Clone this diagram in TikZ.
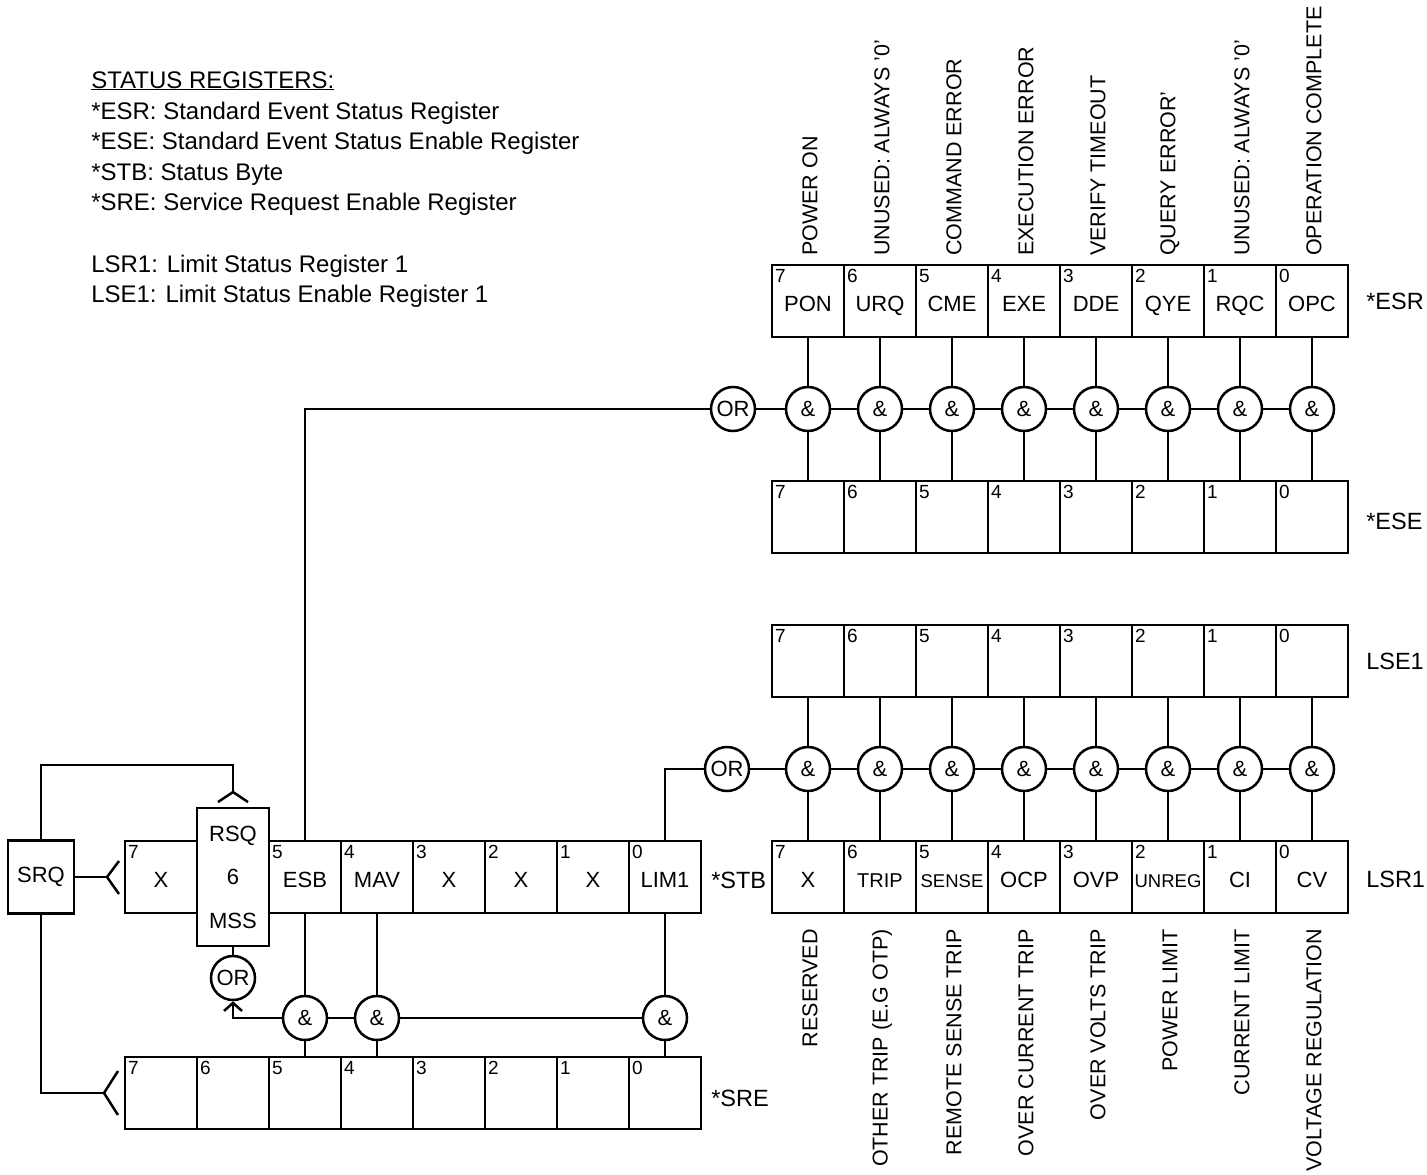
\documentclass[tikz,border=0pt]{standalone}
\usepackage{fontspec}
\setmainfont{Liberation Sans}
\usetikzlibrary{arrows.meta}
\newcommand\sq[1]{{\fontsize{18.5}{20}\selectfont #1}}
\newcommand\regrow[4]{%
  \foreach \lab [count=\i from 0] in {#4} {
    \pgfmathtruncatemacro\bit{7-\i}
    \node[cell] (#1\bit) at ({#2+36+72*\i}, {#3+36}) {};
    \node[celltext] at ([yshift=-10pt]#1\bit.center) {\lab};
    \node[bitnum] at ([xshift=3pt,yshift=-4pt]#1\bit.north west) {\bit};
  }}
\begin{document}
\begin{tikzpicture}[x=1pt,y=-1pt, line width=2.5pt,
 cell/.style={draw, minimum width=72pt, minimum height=72pt, inner sep=0pt},
 celltext/.style={anchor=base, inner sep=0pt, font=\fontsize{22}{24}\selectfont},
 gate/.style={draw, circle, minimum size=44pt, inner sep=0pt, font=\fontsize{22}{24}\selectfont},
 bitnum/.style={anchor=north west, inner sep=0pt, font=\fontsize{19}{20}\selectfont},
 reglabel/.style={anchor=west, inner sep=0pt, font=\fontsize{23.5}{24}\selectfont},
 toplabel/.style={rotate=90, anchor=west, inner sep=0pt, font=\fontsize{21.5}{22}\selectfont},
 botlabel/.style={rotate=90, anchor=east, inner sep=0pt, font=\fontsize{21.5}{22}\selectfont},
 hdr/.style={anchor=base west, inner sep=0pt, font=\fontsize{24}{26}\selectfont}]
\useasboundingbox[fill=white] (0,0) rectangle (1427,1175);

% header
\node[hdr] (h0) at (90,88) {\underline{STATUS REGISTERS:}};
\node[hdr] (h1) at (90,119) {*ESR: Standard Event Status Register};
\node[hdr] (h2) at (90,149) {*ESE: Standard Event Status Enable Register};
\node[hdr] (h3) at (90,180) {*STB: Status Byte};
\node[hdr] (h4) at (90,210) {*SRE: Service Request Enable Register};
\node[hdr] (h5) at (90,272) {LSR1: Limit Status Register 1};
\node[hdr] (h6) at (90,302) {LSE1: Limit Status Enable Register 1};

% registers on the right
\regrow{esr}{772}{265}{PON,URQ,CME,EXE,DDE,QYE,RQC,OPC}
\regrow{ese}{772}{481}{{},{},{},{},{},{},{},{}}
\regrow{lse}{772}{625}{{},{},{},{},{},{},{},{}}
\regrow{lsr}{772}{841}{X,{\fontsize{20}{22}\selectfont TRIP},\sq{SENSE},OCP,OVP,\sq{UNREG},CI,CV}
\node[reglabel] (lesr) at (1365,301) {*ESR};
\node[reglabel] (lese) at (1365,521) {*ESE};
\node[reglabel] (llse) at (1365,661) {LSE1};
\node[reglabel] (llsr) at (1365,879) {LSR1};

% top labels
\foreach \t [count=\i from 0] in {POWER ON,UNUSED: ALWAYS '0',COMMAND ERROR,EXECUTION ERROR,VERIFY TIMEOUT,QUERY ERROR',UNUSED: ALWAYS '0',OPERATION COMPLETE}
  \node[toplabel] (tl\i) at ({810+72*\i},257) {\t};
% bottom labels
\foreach \t [count=\i from 0] in {RESERVED,OTHER TRIP (E.G OTP),REMOTE SENSE TRIP,OVER CURRENT TRIP,OVER VOLTS TRIP,POWER LIMIT,CURRENT LIMIT,VOLTAGE REGULATION}
  \node[botlabel] (bl\i) at ({810+72*\i},928) {\t};

% gates ESR/ESE and LSE1/LSR1
\node[gate] (eor) at (733,409) {OR};
\node[gate] (lor) at (727,769) {OR};
\foreach \b [count=\i from 0] in {7,6,5,4,3,2,1,0} {
  \node[gate] (ea\b) at ({808+72*\i},409) {\&};
  \draw (esr\b.south) -- (ea\b.north);
  \draw (ea\b.south) -- (ese\b.north);
  \node[gate] (la\b) at ({808+72*\i},769) {\&};
  \draw (lse\b.south) -- (la\b.north);
  \draw (la\b.south) -- (lsr\b.north);
}
\draw (eor) -- (ea7);
\draw (lor) -- (la7);
\foreach \a/\c in {7/6,6/5,5/4,4/3,3/2,2/1,1/0} {
  \draw (ea\a) -- (ea\c);
  \draw (la\a) -- (la\c);
}

% status byte
\foreach \b/\lab/\i in {7/X/0,5/ESB/2,4/MAV/3,3/X/4,2/X/5,1/X/6,0/LIM1/7} {
  \node[cell] (stb\b) at ({161+72*\i},877) {};
  \node[celltext] at ([yshift=-10pt]stb\b.center) {\lab};
  \node[bitnum] at ([xshift=3pt,yshift=-4pt]stb\b.north west) {\b};
}
\node[draw, minimum width=72pt, minimum height=138pt, inner sep=0pt] (stb6) at (233,877) {};
\node[celltext] (rsq) at (233,841) {RSQ};
\node[celltext] (six) at (233,884) {6};
\node[celltext] (mss) at (233,928) {MSS};
\node[reglabel] (lstb) at (710,880) {*STB};

\regrow{sre}{125}{1057}{{},{},{},{},{},{},{},{}}
\node[reglabel] (lsre) at (710,1098) {*SRE};

\node[gate] (mor) at (233,978) {OR};
\draw (stb6.south) -- (mor.north);
\foreach \b/\x in {5/305,4/377,0/665} {
  \node[gate] (sa\b) at (\x,1018) {\&};
  \draw (stb\b.south) -- (sa\b.north);
  \draw (sa\b.south) -- (sre\b.north);
}
\draw (sa0) -- (sa4);
\draw (sa4) -- (sa5);
\draw[-{Straight Barb[length=8pt,width=18pt]}] (sa5.west) -| (mor.south);

% connections to OR gates
\draw (stb5.north) |- (eor.west);
\draw (stb0.north) |- (lor.west);

% SRQ
\node[draw, minimum width=66pt, minimum height=73pt, inner sep=0pt, font=\fontsize{22}{24}\selectfont] (srq) at (41,877) {SRQ};
\coordinate (fa) at (107,877);
\draw (srq.east) -- (fa);
\draw (fa) -- ++(12,-16);
\draw (fa) -- ++(12,17);
\coordinate (fbt) at (233,765);
\coordinate (fb) at (233,792);
\draw (srq.north) |- (fbt) -- (fb);
\draw (fb) -- ++(-15,10);
\draw (fb) -- ++(15,10);
\coordinate (fc) at (104,1093);
\draw (srq.south) |- (fc);
\draw (fc) -- ++(14,-22);
\draw (fc) -- ++(14,22);
\end{tikzpicture}
\end{document}
